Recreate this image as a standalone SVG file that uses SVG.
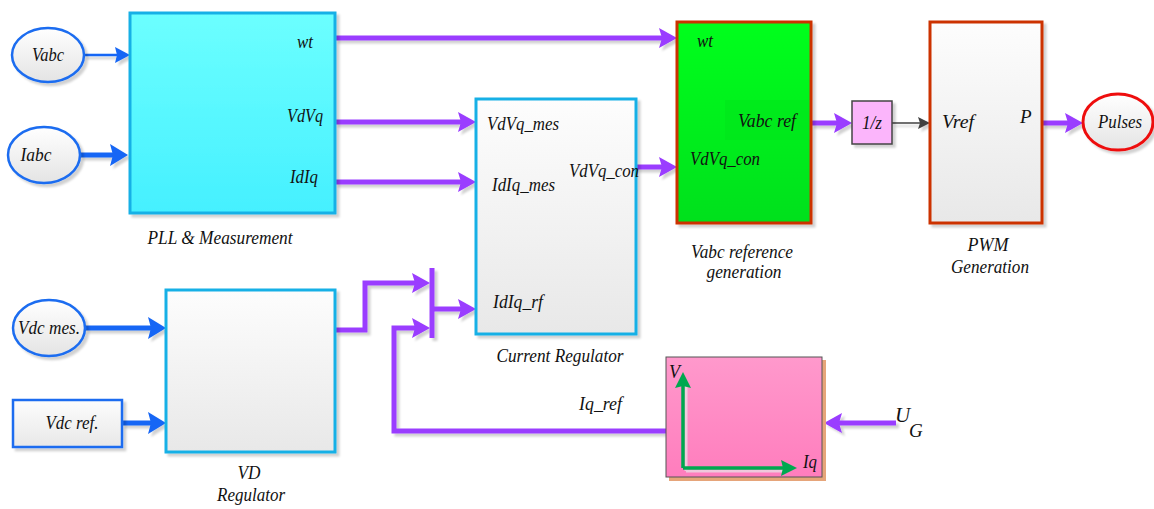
<svg xmlns="http://www.w3.org/2000/svg" width="1154" height="509" viewBox="0 0 1154 509">
<style>
text{font-family:"Liberation Serif","Times New Roman",serif;font-style:italic;font-size:19px;fill:#111}
.m{text-anchor:middle}
.c{fill:none;stroke-linejoin:miter;stroke-linecap:butt}
.p{stroke:#9a3cff;stroke-width:5}
.b1{stroke:#1466f5;stroke-width:2.5}
.b2{stroke:#1466f5;stroke-width:5}
.gr{stroke:#00a84f;stroke-width:3.5}
.sh{filter:url(#ds)}
</style>
<defs>
<filter id="ds" x="-10%" y="-10%" width="130%" height="130%">
<feDropShadow dx="3" dy="3" stdDeviation="1.2" flood-color="#000" flood-opacity="0.18"/>
</filter>
<linearGradient id="gCyan" x1="0" y1="0" x2="0" y2="1"><stop offset="0" stop-color="#6cffff"/><stop offset="1" stop-color="#45f0ff"/></linearGradient>
<linearGradient id="gGray" x1="0" y1="0" x2="0" y2="1"><stop offset="0" stop-color="#fdfdfd"/><stop offset="1" stop-color="#e8e8e8"/></linearGradient>
<linearGradient id="gGreen" x1="0" y1="0" x2="0" y2="1"><stop offset="0" stop-color="#00ff1a"/><stop offset="1" stop-color="#00e01c"/></linearGradient>
<linearGradient id="gPink" x1="0" y1="0" x2="0" y2="1"><stop offset="0" stop-color="#ff99cc"/><stop offset="1" stop-color="#ff7dbd"/></linearGradient>
<linearGradient id="gEll" x1="0" y1="0" x2="0" y2="1"><stop offset="0" stop-color="#ffffff"/><stop offset="1" stop-color="#e4e4e4"/></linearGradient>
<marker id="ap" viewBox="0 0 18 20" markerWidth="18" markerHeight="20" refX="8" refY="10" orient="auto" markerUnits="userSpaceOnUse"><path d="M0,0 L18,10 L0,20 L3,10 z" fill="#9a3cff"/></marker>
<marker id="ab1" viewBox="0 0 15 16" markerWidth="15" markerHeight="16" refX="7" refY="8" orient="auto" markerUnits="userSpaceOnUse"><path d="M0,0 L15,8 L0,16 L2,8 z" fill="#1466f5"/></marker>
<marker id="ab2" viewBox="0 0 18 22" markerWidth="18" markerHeight="22" refX="8" refY="11" orient="auto" markerUnits="userSpaceOnUse"><path d="M0,0 L18,11 L0,22 L3,11 z" fill="#1466f5"/></marker>
<marker id="ag" viewBox="0 0 12 12" markerWidth="12" markerHeight="12" refX="6" refY="6" orient="auto" markerUnits="userSpaceOnUse"><path d="M0,0 L12,6 L0,12 L2,6 z" fill="#404040"/></marker>
<marker id="agr" viewBox="0 0 16 16" markerWidth="16" markerHeight="16" refX="7" refY="8" orient="auto" markerUnits="userSpaceOnUse"><path d="M0,0 L16,8 L0,16 L2,8 z" fill="#00a84f"/></marker>
</defs>

<g id="connectors" class="sh">
<path class="c b1" d="M84,55 H122" marker-end="url(#ab1)"/>
<path class="c b2" d="M80,155 H118" marker-end="url(#ab2)"/>
<path class="c p" d="M335,38 H667" marker-end="url(#ap)"/>
<path class="c p" d="M335,122 H466" marker-end="url(#ap)"/>
<path class="c p" d="M335,182 H466" marker-end="url(#ap)"/>
<path class="c p" d="M636,167 H667" marker-end="url(#ap)"/>
<path class="c p" d="M811,123 H842" marker-end="url(#ap)"/>
<path class="c" d="M892,123 H924" stroke="#404040" stroke-width="1.5" marker-end="url(#ag)"/>
<path class="c p" d="M1042,123 H1073" marker-end="url(#ap)"/>
<path class="c b2" d="M85,328 H156" marker-end="url(#ab2)"/>
<path class="c b2" d="M122,423 H156" marker-end="url(#ab2)"/>
<path class="c p" d="M335,330 H365 V283 H420" marker-end="url(#ap)"/>
<path class="c p" d="M432,268 V338"/>
<path class="c p" d="M432,309 H466" marker-end="url(#ap)"/>
<path class="c p" d="M666,431 H394 V328 H420" marker-end="url(#ap)"/>
<path class="c p" d="M896,423 H834" marker-end="url(#ap)"/>
</g>

<g id="vabc">
<ellipse class="sh" cx="48" cy="55" rx="36" ry="27" fill="url(#gEll)" stroke="#1a6cf0" stroke-width="2.5"/>
<text class="m" x="48" y="61" textLength="32" lengthAdjust="spacingAndGlyphs">Vabc</text>
</g>
<g id="iabc">
<ellipse class="sh" cx="44" cy="155" rx="36" ry="28" fill="url(#gEll)" stroke="#1a6cf0" stroke-width="2.5"/>
<text class="m" x="36" y="161" textLength="31" lengthAdjust="spacingAndGlyphs">Iabc</text>
</g>

<g id="pll">
<rect class="sh" x="130" y="13" width="205" height="200" fill="url(#gCyan)" stroke="#19b0e6" stroke-width="3"/>
<text x="297" y="48" textLength="16" lengthAdjust="spacingAndGlyphs">wt</text>
<text x="287" y="122" textLength="36" lengthAdjust="spacingAndGlyphs">VdVq</text>
<text x="290" y="183" textLength="28" lengthAdjust="spacingAndGlyphs">IdIq</text>
<text class="m" x="220" y="244" textLength="145" lengthAdjust="spacingAndGlyphs">PLL &amp; Measurement</text>
</g>

<g id="current-regulator">
<rect class="sh" x="476" y="99" width="160" height="235" fill="url(#gGray)" stroke="#19b0e6" stroke-width="3"/>
<text x="487" y="130" textLength="72" lengthAdjust="spacingAndGlyphs">VdVq_mes</text>
<text x="492" y="191" textLength="63" lengthAdjust="spacingAndGlyphs">IdIq_mes</text>
<text x="569" y="177" textLength="70" lengthAdjust="spacingAndGlyphs">VdVq_con</text>
<text x="493" y="308" textLength="50" lengthAdjust="spacingAndGlyphs">IdIq_rf</text>
<text class="m" x="560" y="362" textLength="127" lengthAdjust="spacingAndGlyphs">Current Regulator</text>
</g>

<g id="vabc-ref-gen">
<rect class="sh" x="677" y="22" width="134" height="201" fill="url(#gGreen)" stroke="#cc3300" stroke-width="3"/>
<rect x="725" y="100" width="84" height="40" fill="#00e41a" opacity="0.5"/>
<text x="697" y="47" textLength="16" lengthAdjust="spacingAndGlyphs">wt</text>
<text x="738" y="127" textLength="58" lengthAdjust="spacingAndGlyphs">Vabc ref</text>
<text x="690" y="165" textLength="70" lengthAdjust="spacingAndGlyphs">VdVq_con</text>
<text class="m" x="742" y="258" textLength="102" lengthAdjust="spacingAndGlyphs">Vabc reference</text>
<text class="m" x="744" y="278" textLength="75" lengthAdjust="spacingAndGlyphs">generation</text>
</g>

<g id="delay">
<rect class="sh" x="852" y="101" width="40" height="43" fill="#fbb5fb" stroke="#444" stroke-width="1.5"/>
<text class="m" x="872" y="129" textLength="20" lengthAdjust="spacingAndGlyphs">1/z</text>
</g>

<g id="pwm">
<rect class="sh" x="930" y="22" width="112" height="201" fill="url(#gGray)" stroke="#cc3300" stroke-width="3"/>
<text x="942" y="128" textLength="32" lengthAdjust="spacingAndGlyphs">Vref</text>
<text x="1020" y="123">P</text>
<text class="m" x="988" y="251" textLength="41" lengthAdjust="spacingAndGlyphs">PWM</text>
<text class="m" x="990" y="273" textLength="78" lengthAdjust="spacingAndGlyphs">Generation</text>
</g>

<g id="pulses">
<ellipse class="sh" cx="1118" cy="122" rx="35" ry="28" fill="url(#gEll)" stroke="#ee1111" stroke-width="3"/>
<text class="m" x="1120" y="128" textLength="44" lengthAdjust="spacingAndGlyphs">Pulses</text>
</g>

<g id="vdc-mes">
<ellipse class="sh" cx="49" cy="328" rx="36" ry="28" fill="url(#gEll)" stroke="#1a6cf0" stroke-width="2.5"/>
<text class="m" x="49" y="334" textLength="62" lengthAdjust="spacingAndGlyphs">Vdc mes.</text>
</g>

<g id="vdc-ref">
<rect class="sh" x="13" y="400" width="109" height="47" fill="url(#gGray)" stroke="#1a6cf0" stroke-width="2.5"/>
<text class="m" x="72" y="429" textLength="53" lengthAdjust="spacingAndGlyphs">Vdc ref.</text>
</g>

<g id="vd-regulator">
<rect class="sh" x="166" y="290" width="169" height="162" fill="url(#gGray)" stroke="#19b0e6" stroke-width="3"/>
<text class="m" x="249" y="479" textLength="23" lengthAdjust="spacingAndGlyphs">VD</text>
<text class="m" x="251" y="501" textLength="68" lengthAdjust="spacingAndGlyphs">Regulator</text>
</g>

<g id="vq-characteristic">
<rect x="669" y="360" width="157" height="121" fill="#e6a57a"/>
<rect x="666" y="357" width="156" height="120" fill="url(#gPink)" stroke="#555" stroke-width="1"/>
<path class="c" d="M686,471 V381 M686,471 H788" stroke="#e8e8e8" stroke-width="3" opacity="0.7"/>
<path class="c gr" d="M683,468 V381" marker-end="url(#agr)"/>
<path class="c gr" d="M683,468 H788" marker-end="url(#agr)"/>
<text x="669" y="378" textLength="11" lengthAdjust="spacingAndGlyphs">V</text>
<text x="803" y="468" textLength="14" lengthAdjust="spacingAndGlyphs">Iq</text>
</g>

<g id="labels">
<text x="579" y="410" textLength="43" lengthAdjust="spacingAndGlyphs">Iq_ref</text>
<text x="895" y="422" style="font-size:21px">U</text>
<text x="909" y="437" style="font-size:19px">G</text>
</g>
</svg>
